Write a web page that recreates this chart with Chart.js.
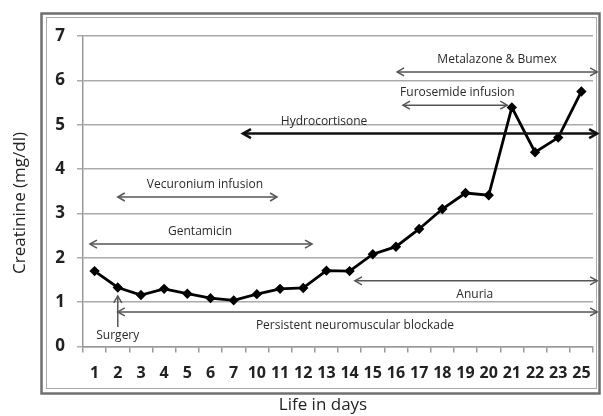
<!DOCTYPE html>
<html>
<head>
<meta charset="utf-8">
<script src="https://cdn.jsdelivr.net/npm/chart.js@4.4.0/dist/chart.umd.min.js"></script>
<style>
  html, body { margin: 0; padding: 0; background: #fff; }
</style>
</head>
<body>
<canvas id="myChart" width="603" height="416"></canvas>
<script>
const ctx = document.getElementById('myChart');

// dias de vida y creatinina (mg/dl)
const dias = ['1', '2', '3', '4', '5', '6', '7', '10', '11', '12', '13', '14', '15', '16', '17', '18', '19', '20', '21', '22', '23', '25'];
const creatinina = [1.70, 1.33, 1.16, 1.30, 1.19, 1.09, 1.04, 1.18, 1.30, 1.32, 1.71, 1.70, 2.08, 2.25, 2.65, 3.10, 3.46, 3.41, 5.39, 4.38, 4.71, 5.75];

// flechas de tratamiento (x en posiciones de categoria, y en mg/dl)
const flechaTexto = ['Metalazone & Bumex', 'Furosemide infusion', 'Hydrocortisone', 'Vecuronium infusion', 'Gentamicin', 'Anuria', 'Persistent neuromuscular blockade'];
const flechaDesde = [13.05, 13.3, 6.4, 1.0, -0.2, 11.23, 1.0];
const flechaHasta = [21.68, 17.8, 21.68, 7.87, 9.38, 21.68, 21.68];
const flechaY = [6.19, 5.44, 4.8, 3.37, 2.31, 1.48, 0.78];
const textoX = [17.36, 15.65, 9.9, 4.76, 4.55, 16.4, 11.23];
const textoY = [6.47, 5.73, 5.08, 3.66, 2.6, 1.18, 0.48];

// cirugia: flecha vertical en el dia 2
const cirugiaX = 1;
const cirugiaDesde = 0.44;
const cirugiaHasta = 1.14;
const cirugiaTextoY = 0.24;

function punta(c, x, y, dir, grande) {
  const l = grande ? 8 : 7;
  const w = grande ? 4.5 : 4;
  c.beginPath();
  if (dir === 'up') {
    c.moveTo(x - w, y + l);
    c.lineTo(x, y);
    c.lineTo(x + w, y + l);
  } else {
    const s = dir === 'left' ? 1 : -1;
    c.moveTo(x + s * l, y - w);
    c.lineTo(x, y);
    c.lineTo(x + s * l, y + w);
  }
  c.stroke();
}

const anotaciones = {
  id: 'anotaciones',
  beforeDraw(chart) {
    const c = chart.ctx;
    c.save();
    // marco doble
    c.strokeStyle = '#707070';
    c.lineWidth = 2.5;
    c.strokeRect(41.5, 13.5, 558, 380);
    c.strokeStyle = '#aaa';
    c.lineWidth = 1;
    c.strokeRect(46.5, 17.5, 550, 371);
    c.restore();
  },
  afterDatasetsDraw(chart) {
    const c = chart.ctx;
    const x = chart.scales.x;
    const y = chart.scales.y;
    c.save();
    c.font = '12px "Open Sans"';
    c.textAlign = 'center';
    c.textBaseline = 'middle';
    for (let i = 0; i < flechaTexto.length; i++) {
      const grande = flechaTexto[i] === 'Hydrocortisone';
      const x1 = x.getPixelForValue(flechaDesde[i]);
      const x2 = x.getPixelForValue(flechaHasta[i]);
      const yy = y.getPixelForValue(flechaY[i]);
      c.strokeStyle = grande ? '#111' : '#555';
      c.lineWidth = grande ? 2.5 : 1.5;
      c.beginPath();
      c.moveTo(x1, yy);
      c.lineTo(x2, yy);
      c.stroke();
      punta(c, x1, yy, 'left', grande);
      punta(c, x2, yy, 'right', grande);
      c.fillStyle = '#2a2a2a';
      c.fillText(flechaTexto[i], x.getPixelForValue(textoX[i]), y.getPixelForValue(textoY[i]));
    }
    // surgery
    const sx = x.getPixelForValue(cirugiaX);
    c.strokeStyle = '#555';
    c.lineWidth = 1.5;
    c.beginPath();
    c.moveTo(sx, y.getPixelForValue(cirugiaDesde));
    c.lineTo(sx, y.getPixelForValue(cirugiaHasta));
    c.stroke();
    punta(c, sx, y.getPixelForValue(cirugiaHasta), 'up', false);
    c.fillText('Surgery', sx, y.getPixelForValue(cirugiaTextoY));

    // titulos de ejes centrados en el marco
    c.fillStyle = '#222';
    c.font = '17px "Open Sans"';
    c.fillText('Life in days', 323, 405);
    c.translate(20, 203);
    c.rotate(-Math.PI / 2);
    c.fillText('Creatinine (mg/dl)', 0, 0);
    c.restore();
  }
};

const myChart = new Chart(ctx, {
  type: 'line',
  data: {
    labels: dias,
    datasets: [{
      label: 'Creatinine',
      data: creatinina,
      borderColor: '#000',
      backgroundColor: '#000',
      borderWidth: 2.8,
      pointStyle: 'rectRot',
      pointRadius: 3.2,
      tension: 0,
    }]
  },
  options: {
    responsive: false,
    animation: false,
    layout: {
      padding: { top: 36, right: 10, left: 0, bottom: 0 }
    },
    plugins: {
      legend: { display: false },
      tooltip: { enabled: false },
    },
    scales: {
      x: {
        offset: true,
        grid: { offset: true, drawOnChartArea: false, tickLength: 6, color: '#999', lineWidth: 1.5 },
        border: { color: '#999', width: 1.5 },
        ticks: {
          autoSkip: false,
          maxRotation: 0,
          padding: 11,
          color: '#222',
          font: { family: 'Open Sans', size: 16, weight: 'bold' }
        },
        afterFit: (s) => { s.height = 69.5; }
      },
      y: {
        min: 0,
        max: 7,
        grid: { color: '#aaa', lineWidth: 1.5, tickLength: 6 },
        border: { color: '#999', width: 1.5 },
        ticks: {
          stepSize: 1,
          padding: 12,
          color: '#222',
          font: { family: 'Open Sans', size: 17, weight: 'bold' }
        },
        afterFit: (s) => { s.width = 83; }
      }
    }
  },
  plugins: [anotaciones]
});
</script>
</body>
</html>
